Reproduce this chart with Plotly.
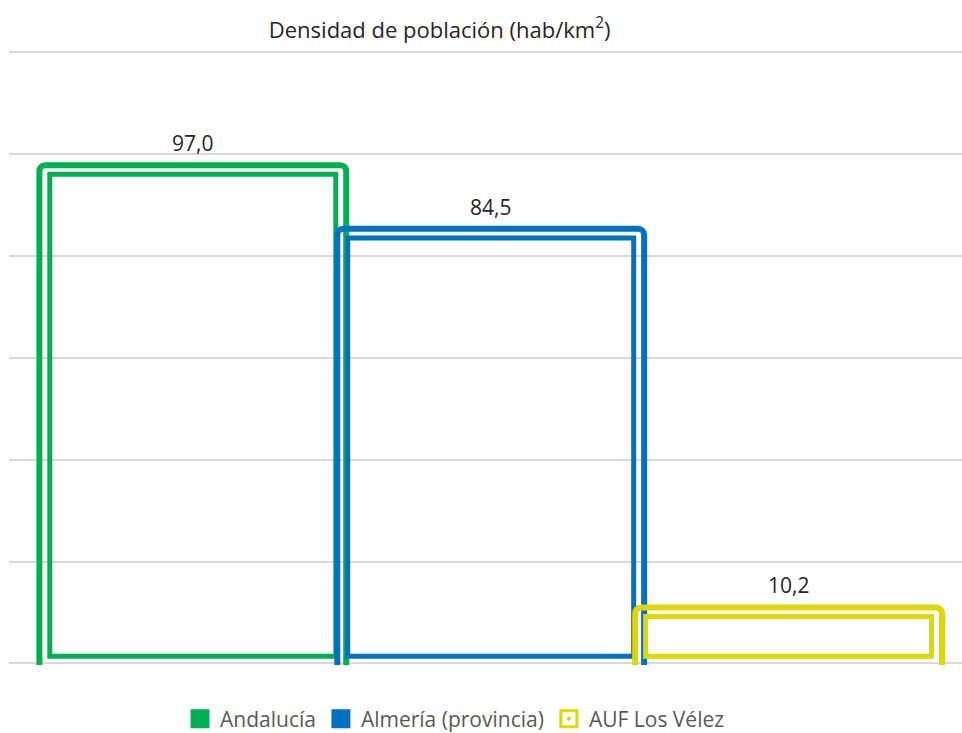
import plotly.graph_objects as go

categories = ["Andalucía", "Almería (provincia)", "AUF Los Vélez"]
densidad = [97.0, 84.5, 10.2]
colores = ["#00B050", "#0070C0", "#DED700"]
simbolos = ["square", "square", "square-open-dot"]

FONT = "Open Sans"

fig = go.Figure()

for cat, val, col in zip(categories, densidad, colores):
    # marco exterior redondeado (la base queda fuera del area)
    fig.add_trace(go.Bar(
        x=[cat], y=[val + 0.8 + 3], base=[-3],
        width=1.03,
        marker=dict(color="rgba(0,0,0,0)", line=dict(color=col, width=6), cornerradius=6),
        showlegend=False, hoverinfo="skip",
    ))
    # rectangulo interior
    fig.add_trace(go.Bar(
        x=[cat], y=[val - 1.0 - 1.4], base=[1.4],
        width=0.96,
        marker=dict(color="rgba(255,255,255,0)", line=dict(color=col, width=5)),
        showlegend=False, hoverinfo="skip",
    ))
    fig.add_annotation(
        x=cat, y=val + 0.8, text=f"{val:.1f}".replace(".", ","),
        showarrow=False, yanchor="bottom", yshift=6,
        font=dict(family=FONT, size=21, color="#262626"),
    )

# entradas de leyenda
for cat, col, sym in zip(categories, colores, simbolos):
    fig.add_trace(go.Scatter(
        x=[None], y=[None], mode="markers", name=cat,
        marker=dict(symbol=sym, size=18, color=col, line=dict(color=col, width=3)),
    ))

fig.update_layout(
    width=962, height=733,
    barmode="overlay",
    plot_bgcolor="white", paper_bgcolor="white",
    margin=dict(l=9, r=0, t=51, b=68),
    font=dict(family=FONT, color="#595959"),
    title=dict(
        text="Densidad de población (hab/km<sup>2</sup>)",
        x=0.457, xref="container", xanchor="center",
        y=1 - 30 / 733, yref="container", yanchor="middle",
        font=dict(family=FONT, size=22, color="#262626"),
    ),
    xaxis=dict(
        type="category", range=[-0.617, 2.582],
        showticklabels=False, showgrid=False, zeroline=False, showline=False, ticks="",
    ),
    yaxis=dict(
        range=[-0.3, 120.2], dtick=20, showticklabels=False,
        showgrid=True, gridcolor="#D9D9D9", gridwidth=2, zeroline=False, showline=False,
    ),
    legend=dict(
        orientation="h", xref="container", yref="container",
        x=0.473, xanchor="center", y=1 - 719 / 733, yanchor="middle",
        font=dict(family=FONT, size=21, color="#595959"),
        itemwidth=30, tracegroupgap=0,
    ),
    showlegend=True,
)

fig.write_html(
    "out.html",
    config={"displayModeBar": False},
    post_script="document.body.style.margin='0';",
)
